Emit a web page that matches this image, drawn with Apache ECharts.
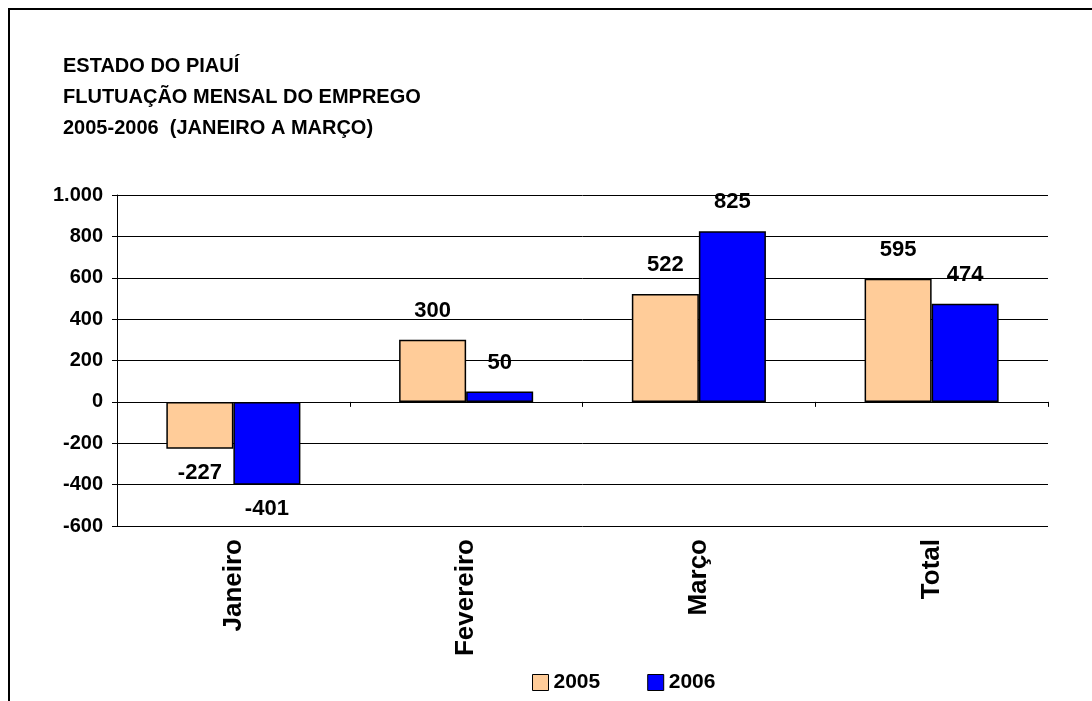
<!DOCTYPE html>
<html>
<head>
<meta charset="utf-8">
<title>Estado do Piauí - Flutuação mensal do emprego</title>
<script src="https://cdn.jsdelivr.net/npm/echarts@6/dist/echarts.min.js"></script>
<style>
  html, body { margin: 0; padding: 0; background: #fff; }
  #chart { width: 1092px; height: 701px; }
</style>
</head>
<body>
<div id="chart"></div>
<script>
// Categories and values (saldo de empregos por mês)
const categories = ['Janeiro', 'Fevereiro', 'Março', 'Total'];
const seriesNames = ['2005', '2006'];
const values2005 = [-227, 300, 522, 595];
const values2006 = [-401, 50, 825, 474];
const titleLines = ['ESTADO DO PIAUÍ', 'FLUTUAÇÃO MENSAL DO EMPREGO', '2005-2006  (JANEIRO A MARÇO)'];

const FONT = "'Liberation Sans', Arial, Helvetica, sans-serif";

// Thousands separator as used in pt-BR (1.000)
function fmtThousands(v) {
  const s = String(Math.abs(v)).replace(/\B(?=(\d{3})+(?!\d))/g, '.');
  return (v < 0 ? '-' : '') + s;
}

// Labels sit above positive bars and below negative ones
function toItems(values) {
  return values.map(function (v) {
    return {
      value: v,
      label: v < 0 ? { position: 'bottom', distance: 13 } : { position: 'top', distance: 18 }
    };
  });
}

const chart = echarts.init(document.getElementById('chart'), null, { renderer: 'canvas' });

const barStyle = { borderColor: '#000', borderWidth: 1.5 };
const labelStyle = {
  show: true,
  color: '#000',
  fontFamily: FONT,
  fontWeight: 'bold',
  fontSize: 22,
  formatter: function (p) { return fmtThousands(p.value); }
};

chart.setOption({
  backgroundColor: '#fff',
  animation: false,
  title: {
    text: titleLines.join('\n'),
    left: 58,
    top: 46,
    textStyle: {
      fontFamily: FONT,
      fontWeight: 'bold',
      fontSize: 20,
      lineHeight: 31,
      color: '#000'
    }
  },
  legend: {
    data: seriesNames,
    left: 527,
    top: 667,
    itemWidth: 16,
    itemHeight: 16,
    itemGap: 47,
    icon: 'rect',
    itemStyle: { borderColor: '#000', borderWidth: 1 },
    textStyle: {
      fontFamily: FONT,
      fontWeight: 'bold',
      fontSize: 21,
      color: '#000',
      padding: [0, 0, 6, 0]
    }
  },
  grid: {
    left: 117,
    right: 44,
    top: 195,
    bottom: 175,
    containLabel: false,
    outerBoundsMode: 'none'
  },
  xAxis: {
    type: 'category',
    data: categories,
    axisLine: { onZero: true, lineStyle: { color: '#000', width: 1 } },
    axisTick: { show: true, length: 5, lineStyle: { color: '#000' } },
    axisLabel: {
      rotate: 90,
      margin: 13,
      color: '#000',
      fontFamily: FONT,
      fontWeight: 'bold',
      fontSize: 26
    },
    splitLine: { show: false }
  },
  yAxis: {
    type: 'value',
    min: -600,
    max: 1000,
    interval: 200,
    axisLine: { show: true, lineStyle: { color: '#000', width: 1 } },
    axisTick: { show: true, length: 5, lineStyle: { color: '#000' } },
    axisLabel: {
      margin: 14,
      color: '#000',
      fontFamily: FONT,
      fontWeight: 'bold',
      fontSize: 20,
      formatter: fmtThousands
    },
    splitLine: { show: true, lineStyle: { color: '#000', width: 1 } }
  },
  series: [
    {
      name: seriesNames[0],
      type: 'bar',
      data: toItems(values2005),
      barGap: '0%',
      barCategoryGap: '42.4%',
      itemStyle: Object.assign({ color: '#FFCC99' }, barStyle),
      label: labelStyle
    },
    {
      name: seriesNames[1],
      type: 'bar',
      data: toItems(values2006),
      barGap: '0%',
      barCategoryGap: '42.4%',
      itemStyle: Object.assign({ color: '#0000FF' }, barStyle),
      label: labelStyle
    }
  ],
  graphic: [
    {
      // outer chart frame
      type: 'rect',
      silent: true,
      shape: { x: 9, y: 9, width: 1200, height: 1000 },
      style: { fill: 'none', stroke: '#000', lineWidth: 2 }
    }
  ]
});
</script>
</body>
</html>
